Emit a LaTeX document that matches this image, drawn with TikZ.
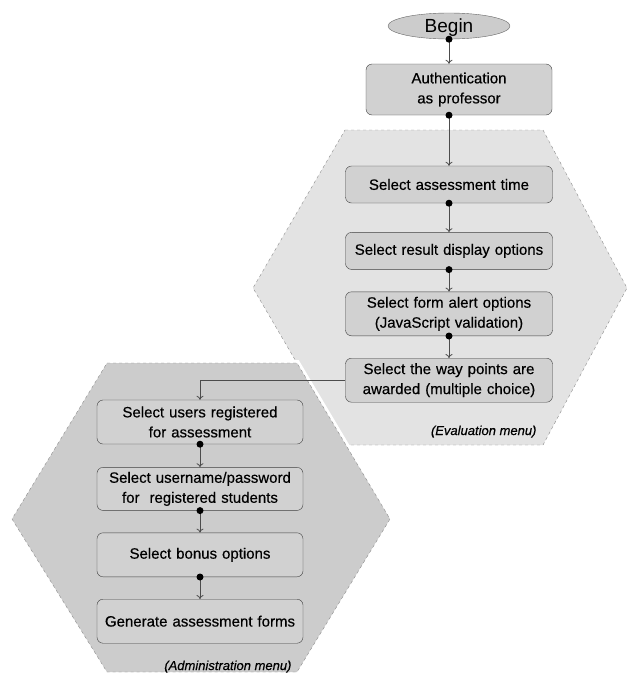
\documentclass[tikz,border=0pt]{standalone}
\usepackage{fontspec}
\setmainfont{Liberation Sans}
\newfontfamily\boxfont[FakeBold=0.4]{Liberation Sans}
\usetikzlibrary{arrows,arrows.meta,positioning,shapes.geometric}

\begin{document}
\begin{tikzpicture}[x=1pt, y=-1pt,
    box/.style={draw=black!75, fill=black!18, rounded corners=6pt, align=center,
        text width=207pt, inner sep=0pt, font=\boxfont\fontsize{15}{20}\selectfont},
    flow/.style={draw=black!70, line width=0.8pt, ->, >={To[length=4pt,width=7pt]}},
    menu/.style={anchor=base east, font=\boxfont\fontsize{13}{15}\selectfont\itshape},
    hexa/.style={draw=black!45, dashed, thin}]
    \useasboundingbox (0,0) rectangle (627,675);

    % the two menus
    \filldraw[hexa, fill=black!11] (345,130) -- (543,130) -- (627,288) -- (543,445)
        -- (345,445) -- (253,288) -- cycle;
    \draw[white, line width=6pt] (107,363) -- (297,363) -- (390,519) -- (297,672)
        -- (107,672) -- (12,519) -- cycle;
    \filldraw[hexa, fill=black!20] (107,363) -- (297,363) -- (390,519) -- (297,672)
        -- (107,672) -- (12,519) -- cycle;

    \node (begin) [ellipse, draw=black!60, fill=black!20, minimum width=122pt,
        minimum height=26pt, inner sep=0pt, text height=14pt, text depth=2pt,
        font=\fontsize{19}{19}\selectfont] at (449,26) {Begin};
    \node (auth) [box, text width=186pt, minimum height=51pt] at (459,89.5)
        {Authentication\\as professor};

    \node (e1) [box, minimum height=37pt] at (449,184.5) {Select assessment time};
    \node (e2) [box, minimum height=37pt, below=29pt of e1] {Select result display options};
    \node (e3) [box, minimum height=44pt, below=22pt of e2]
        {Select form alert options\\(JavaScript validation)};
    \node (e4) [box, minimum height=44pt, below=22pt of e3]
        {Select the way points are\\awarded (multiple choice)};
    \node (evalmenu) [menu] at (540,435) {(Evaluation menu)};

    \node (a1) [box, text width=206pt, minimum height=44pt] at (200,422)
        {Select users registered\\for assessment};
    \node (a2) [box, text width=206pt, minimum height=43pt, below=23pt of a1]
        {Select username/password\\for\ \ registered students};
    \node (a3) [box, text width=206pt, minimum height=44pt, below=22pt of a2]
        {Select bonus options};
    \node (a4) [box, text width=206pt, minimum height=44pt, below=22pt of a3]
        {Generate assessment forms};
    \node (adminmenu) [menu] at (295,670) {(Administration menu)};

    \draw[flow] (begin.south) -- (begin |- auth.north);
    \draw[flow] (begin |- auth.south) -- (e1.north);
    \draw[flow] (e1.south) -- (e2.north);
    \draw[flow] (e2.south) -- (e3.north);
    \draw[flow] (e3.south) -- (e4.north);
    \draw[flow] (e4.west) -| (a1.north);
    \draw[flow] (a1.south) -- (a2.north);
    \draw[flow] (a2.south) -- (a3.north);
    \draw[flow] (a3.south) -- (a4.north);

    \fill (begin.south) circle (3.5pt);
    \fill (begin |- auth.south) circle (3.5pt);
    \foreach \n in {e1,e2,e3,a1,a2,a3}
        \fill (\n.south) circle (3.5pt);
\end{tikzpicture}
\end{document}
